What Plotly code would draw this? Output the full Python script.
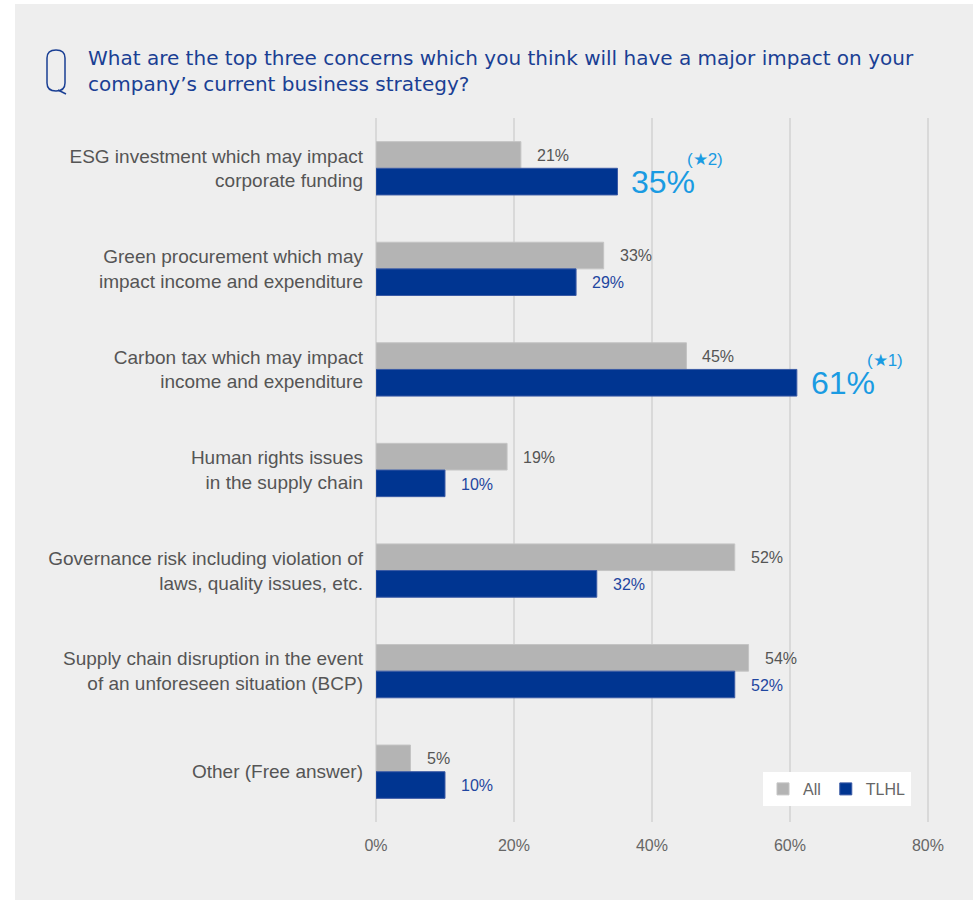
import plotly.graph_objects as go

# Survey data
categories = [
    "ESG investment which may impact<br>corporate funding",
    "Green procurement which may<br>impact income and expenditure",
    "Carbon tax which may impact<br>income and expenditure",
    "Human rights issues<br>in the supply chain",
    "Governance risk including violation of<br>laws, quality issues, etc.",
    "Supply chain disruption in the event<br>of an unforeseen situation (BCP)",
    "Other (Free answer)",
]
all_values = [21, 33, 45, 19, 52, 54, 5]
tlhl_values = [35, 29, 61, 10, 32, 52, 10]
# highlighted TLHL answers with their rank notes
highlights = {0: "(★2)", 2: "(★1)"}

x_ticks = [0, 20, 40, 60, 80]
x_ticktext = ["0%", "20%", "40%", "60%", "80%"]
x_max = 80.3  # a touch beyond 80 so the last gridline is drawn

W, H = 977, 901
L, T, B = 376, 118, 79
PW = round((928 - L) * x_max / 80)
R = W - L - PW
PH = H - T - B

GRAY = "#b4b4b4"
NAVY = "#003591"
SKY = "#1a9be2"
TITLE_BLUE = "#1a3f94"
FONT = "Liberation Sans, Arial, sans-serif"


def px(x):
    return (x - L) / PW


def py(y):
    return (H - B - y) / PH


fig = go.Figure()
fig.add_trace(go.Bar(
    name="All", y=categories, x=all_values, orientation="h",
    marker=dict(color=GRAY, line=dict(color="#c4c4c4", width=1)),
))
fig.add_trace(go.Bar(
    name="TLHL", y=categories, x=tlhl_values, orientation="h",
    marker=dict(color=NAVY, line=dict(color="#3a5aa5", width=1)),
))

annotations = []
for cat, v in zip(categories, all_values):
    annotations.append(dict(
        x=v, y=cat, xref="x", yref="y", text=f"{v}%", showarrow=False,
        xanchor="left", yanchor="middle", xshift=14, yshift=13,
        font=dict(family=FONT, size=16, color="#555555"),
    ))
for i, (cat, v) in enumerate(zip(categories, tlhl_values)):
    if i in highlights:
        annotations.append(dict(
            x=v, y=cat, xref="x", yref="y", text=f"{v}%", showarrow=False,
            xanchor="left", yanchor="middle", xshift=12, yshift=-14,
            font=dict(family=FONT, size=32, color=SKY),
        ))
        annotations.append(dict(
            x=v, y=cat, xref="x", yref="y", text=highlights[i], showarrow=False,
            xanchor="left", yanchor="middle", xshift=68, yshift=9,
            font=dict(family=FONT, size=17, color=SKY),
        ))
    else:
        annotations.append(dict(
            x=v, y=cat, xref="x", yref="y", text=f"{v}%", showarrow=False,
            xanchor="left", yanchor="middle", xshift=14, yshift=-14,
            font=dict(family=FONT, size=16, color="#1f46a0"),
        ))

# question heading
annotations.append(dict(
    x=px(86), y=py(44), xref="paper", yref="paper", xanchor="left", yanchor="top",
    align="left", showarrow=False,
    text="What are the top three concerns which you think will have a major impact on your<br>"
         "company’s current business strategy?",
    font=dict(family="DejaVu Sans, sans-serif", size=20, color=TITLE_BLUE),
))

shapes = [
    # background panel
    dict(type="rect", xref="paper", yref="paper", x0=px(15), x1=px(973), y0=py(900), y1=py(4),
         fillcolor="#eeeeee", line=dict(width=0), layer="below"),
    # "Q" badge: tall rounded outline with a tail
    dict(type="path", xref="paper", yref="paper",
         path=(f"M {px(47)},{py(58)} Q {px(47)},{py(50)} {px(56)},{py(50)} "
               f"Q {px(65)},{py(50)} {px(65)},{py(58)} L {px(65)},{py(83)} "
               f"Q {px(65)},{py(91)} {px(56)},{py(91)} Q {px(47)},{py(91)} {px(47)},{py(83)} Z"),
         line=dict(color=TITLE_BLUE, width=1.5)),
    dict(type="line", xref="paper", yref="paper", x0=px(58), y0=py(90), x1=px(66), y1=py(94),
         line=dict(color=TITLE_BLUE, width=1.5)),
]

fig.update_layout(
    width=W, height=H,
    margin=dict(l=L, r=R, t=T, b=B, pad=0),
    paper_bgcolor="white", plot_bgcolor="#eeeeee",
    barmode="group", bargap=0.47, bargroupgap=0,
    font=dict(family=FONT, color="#555555"),
    xaxis=dict(
        range=[0, x_max], tickvals=x_ticks, ticktext=x_ticktext,
        showgrid=True, gridcolor="#d9d9d9", gridwidth=2,
        zeroline=True, zerolinecolor="#d9d9d9", zerolinewidth=2,
        showline=False, ticks="", ticklabelstandoff=12,
        tickfont=dict(family=FONT, size=16, color="#666666"),
    ),
    yaxis=dict(
        autorange="reversed", showgrid=False, showline=False, ticks="",
        ticklabelstandoff=12,
        tickfont=dict(family=FONT, size=19, color="#555555"),
    ),
    legend=dict(
        orientation="h", x=px(763), y=py(772), xanchor="left", yanchor="top",
        bgcolor="white", font=dict(family=FONT, size=16, color="#666666"),
        traceorder="normal",
    ),
    annotations=annotations,
    shapes=shapes,
)

fig.write_html("out.html")
